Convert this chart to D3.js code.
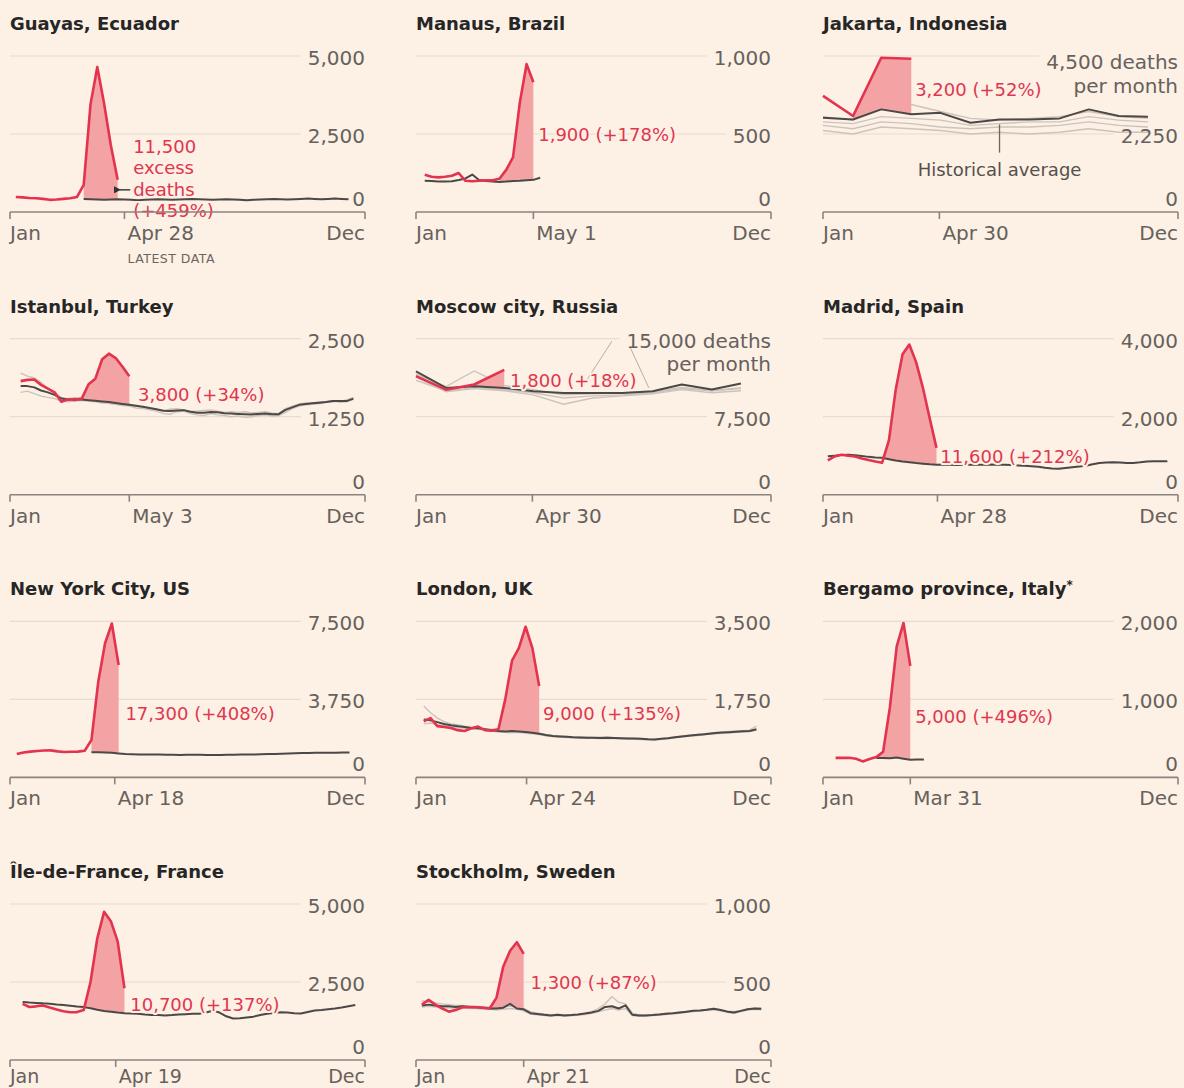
<!DOCTYPE html>
<html><head><meta charset="utf-8">
<script src="https://cdn.jsdelivr.net/npm/d3@7"></script>
<style>
html,body{margin:0;padding:0;background:#fdf0e4;}
svg{display:block;}
text{font-family:"DejaVu Sans",sans-serif;}
</style></head><body>
<svg id="chart" width="1184" height="1088"></svg>
<script>
// ---------------- DATA ----------------
// Weekly series: index i is the week starting at day (firstDay + 7*i) of 2020.
// Monthly series (Jakarta, Moscow): index i is month i (Jan..Dec).

const guayasRed = [480, 470, 450, 440, 420, 390, 400, 420, 440, 480, 870, 3450, 4645, 3480, 2130, 1030];
const guayasAvg = [null, null, null, null, null, null, null, null, null, null,
  420, 410, 400, 390, 400, 410, 400, 390, 380, 390, 400, 410, 400, 390, 400, 410, 420, 410, 400, 390,
  400, 410, 400, 390, 380, 390, 400, 410, 420, 410, 400, 410, 420, 430, 420, 410, 420, 430, 420, 410];

const manausRed = [239, 226, 222, 226, 232, 250, 200, 197, 200, 203, 203, 213, 270, 350, 700, 948, 832];
const manausAvg = [200, 198, 196, 195, 197, 205, 215, 240, 205, 198, 195, 193, 195, 198, 200, 203, 206, 220];

const jakartaRed = [3350, 2770, 4450, 4420];
const jakartaAvg = [2720, 2670, 2960, 2820, 2860, 2575, 2670, 2670, 2700, 2960, 2770, 2750];
const jakartaPast1 = [2750, 2650, 3450, 3100, 2900, 2700, 2650, 2700, 2750, 2900, 2750, 2700];
const jakartaPast2 = [2350, 2250, 2450, 2400, 2350, 2250, 2300, 2250, 2300, 2400, 2300, 2300];
const jakartaPast3 = [2500, 2400, 2600, 2550, 2450, 2400, 2450, 2450, 2500, 2600, 2500, 2450];
const jakartaPast4 = [2600, 2550, 2750, 2700, 2650, 2500, 2550, 2600, 2600, 2750, 2650, 2600];

const istanbulRed = [1820, 1840, 1847, 1760, 1700, 1640, 1490, 1530, 1520, 1540, 1770, 1860, 2170, 2260, 2190, 2050, 1900];
const istanbulAvg = [1740, 1740, 1720, 1670, 1640, 1600, 1540, 1520, 1530, 1525, 1515, 1505, 1495, 1485, 1470, 1455, 1440, 1425, 1410, 1390,
  1370, 1345, 1340, 1350, 1355, 1330, 1315, 1315, 1325, 1320, 1305, 1300, 1295, 1290, 1285, 1295, 1300, 1290, 1290, 1360,
  1400, 1440, 1455, 1465, 1475, 1485, 1500, 1500, 1500, 1540];
const istanbulPast1 = [1950, 1900, 1870, 1800, 1700, 1620, 1560, 1540, 1560, 1540, 1530, 1500, 1480, 1460, 1450, 1430, 1420, 1390, 1380, 1360,
  1340, 1300, 1290, 1330, 1340, 1300, 1280, 1270, 1300, 1280, 1270, 1250, 1260, 1240, 1250, 1270, 1280, 1260, 1270, 1320,
  1380, 1420, 1440, 1450, 1460, 1480, 1490, 1500, 1520, 1560];
const istanbulPast2 = [1640, 1660, 1620, 1580, 1560, 1540, 1500, 1490, 1500, 1510, 1500, 1490, 1470, 1470, 1450, 1440, 1430, 1420, 1400, 1380,
  1360, 1350, 1370, 1380, 1360, 1340, 1340, 1350, 1360, 1340, 1320, 1330, 1320, 1330, 1310, 1320, 1330, 1310, 1300, 1380,
  1420, 1450, 1470, 1470, 1490, 1490, 1510, 1480, 1490, 1530];

const moscowRed = [11400, 10100, 10600, 12000];
const moscowAvg = [11870, 10270, 10430, 10270, 9950, 9790, 9790, 9790, 9950, 10590, 10110, 10690];
const moscowPast1 = [11600, 10400, 11900, 10500, 10100, 9600, 9700, 9800, 9900, 10300, 10000, 10200];
const moscowPast2 = [11300, 9900, 10200, 10000, 9600, 8700, 9300, 9500, 9700, 10100, 9800, 10000];
const moscowPast3 = [11000, 10000, 10300, 10100, 9800, 9300, 9500, 9600, 9800, 10200, 10000, 10300];

const madridRed = [880, 980, 1025, 1000, 980, 930, 890, 850, 820, 1400, 2700, 3600, 3850, 3400, 2740, 1960, 1200];
const madridAvg = [985, 1000, 1015, 1025, 1010, 990, 970, 955, 945, 910, 875, 850, 830, 810, 795, 780, 770, 775, 770, 760,
  765, 770, 765, 770, 775, 770, 765, 760, 750, 740, 730, 715, 690, 670, 665, 685, 705, 720, 740, 780,
  810, 825, 830, 825, 815, 815, 830, 850, 855, 855, 860];

const nycRed = [1120, 1200, 1240, 1270, 1290, 1300, 1250, 1220, 1230, 1240, 1280, 1800, 4600, 6450, 7400, 5400];
const nycAvg = [null, null, null, null, null, null, null, null, null, null, null,
  1210, 1215, 1200, 1180, 1150, 1120, 1110, 1100, 1095, 1100, 1095, 1090, 1085, 1080, 1085, 1090, 1085, 1080, 1075, 1080,
  1085, 1090, 1095, 1100, 1105, 1110, 1120, 1130, 1140, 1150, 1160, 1170, 1175, 1180, 1185, 1190, 1190, 1195, 1200];

const londonRed = [1260, 1330, 1150, 1130, 1110, 1060, 1040, 1100, 1140, 1060, 1050, 1080, 1750, 2620, 2900, 3380, 2900, 2050];
const londonAvg = [1300, 1280, 1240, 1200, 1170, 1150, 1130, 1110, 1100, 1080, 1060, 1040, 1030, 1040, 1030, 1020, 1000, 980, 950, 930,
  920, 910, 900, 895, 890, 890, 885, 890, 885, 880, 875, 870, 865, 855, 850, 865, 880, 900, 920, 935,
  950, 965, 980, 995, 1005, 1015, 1025, 1035, 1040, 1080];
const londonPast1 = [1600, 1450, 1330, 1250, 1200, 1180, 1150, 1120, 1110, 1090, 1080, 1070, 1060, 1080, 1050, 1040, 1010, 990, 960, 940,
  930, 920, 910, 905, 900, 895, 900, 905, 890, 880, 880, 875, 870, 860, 850, 870, 890, 905, 930, 945,
  960, 975, 990, 1010, 1020, 1030, 1040, 1050, 1060, 1150];
const londonPast2 = [1200, 1220, 1180, 1160, 1130, 1110, 1100, 1090, 1080, 1060, 1040, 1020, 1010, 1000, 1010, 990, 980, 960, 930, 915,
  905, 895, 890, 880, 875, 880, 870, 875, 870, 865, 860, 855, 850, 845, 840, 855, 870, 890, 905, 920,
  935, 950, 965, 980, 990, 1000, 1010, 1020, 1030, 1060];

const bergamoRed = [250, 250, 252, 240, 205, 235, 260, 330, 900, 1680, 1980, 1430];
const bergamoAvg = [null, null, null, null, null, null, 250, 250, 245, 255, 240, 225, 230, 228];

const idfRed = [1800, 1700, 1720, 1750, 1680, 1620, 1560, 1530, 1535, 1600, 2500, 3900, 4750, 4450, 3800, 2300];
const idfAvg = [1860, 1840, 1830, 1815, 1805, 1780, 1760, 1740, 1715, 1695, 1660, 1610, 1570, 1550, 1520, 1500, 1490, 1480, 1460, 1445,
  1440, 1430, 1440, 1455, 1470, 1480, 1485, 1520, 1580, 1520, 1400, 1330, 1340, 1365, 1390, 1440, 1485, 1510, 1530, 1520,
  1500, 1490, 1540, 1585, 1600, 1625, 1650, 1680, 1720, 1760];

const stockholmRed = [355, 385, 355, 330, 310, 320, 338, 340, 338, 335, 330, 400, 600, 700, 755, 680];
const stockholmAvg = [350, 355, 350, 345, 345, 340, 345, 340, 338, 335, 330, 330, 335, 360, 330, 325, 300, 295, 290, 286,
  290, 286, 288, 292, 298, 305, 315, 340, 345, 330, 350, 290, 285, 286, 288, 292, 297, 300, 305, 310,
  315, 318, 322, 328, 320, 310, 305, 315, 325, 330, 328];
const stockholmPast1 = [380, 370, 365, 360, 355, 350, 350, 345, 345, 340, 340, 335, 340, 345, 340, 330, 310, 300, 295, 290,
  292, 290, 288, 292, 300, 310, 330, 360, 405, 370, 360, 300, 290, 288, 290, 295, 300, 302, 308, 312,
  318, 320, 325, 330, 322, 315, 310, 318, 328, 332, 330];
const stockholmPast2 = [340, 345, 340, 335, 335, 330, 335, 330, 330, 325, 325, 320, 325, 330, 325, 315, 295, 290, 285, 282,
  285, 282, 284, 288, 292, 300, 310, 320, 330, 320, 330, 285, 280, 282, 285, 288, 292, 296, 300, 305,
  310, 315, 318, 322, 315, 305, 300, 310, 320, 325, 322];

const titles = ["Guayas, Ecuador", "Manaus, Brazil", "Jakarta, Indonesia", "Istanbul, Turkey", "Moscow city, Russia",
  "Madrid, Spain", "New York City, US", "London, UK", "Bergamo province, Italy", "Île-de-France, France", "Stockholm, Sweden"];
const yMax = [5000, 1000, 4500, 2500, 15000, 4000, 7500, 3500, 2000, 5000, 1000];
const latestLabels = ["Apr 28", "May 1", "Apr 30", "May 3", "Apr 30", "Apr 28", "Apr 18", "Apr 24", "Mar 31", "Apr 19", "Apr 21"];
const latestDates = [[3, 28], [4, 1], [3, 30], [4, 3], [3, 30], [3, 28], [3, 18], [3, 24], [2, 31], [3, 19], [3, 21]];
const firstDays = [6, 9, null, 11, null, 5, 7, 8, 13, 13, 6];
const noteTexts = [["11,500", "excess", "deaths", "(+459%)"], ["1,900 (+178%)"], ["3,200 (+52%)"], ["3,800 (+34%)"],
  ["1,800 (+18%)"], ["11,600 (+212%)"], ["17,300 (+408%)"], ["9,000 (+135%)"], ["5,000 (+496%)"], ["10,700 (+137%)"], ["1,300 (+87%)"]];
// note anchor in data units: [day of year, deaths]
const noteAnchors = [[127, 2129], [126, 500], [95, 3542], [132, 1606], [97, 11075], [121, 984], [119, 3106], [131, 1449], [95, 785], [124, 1803], [118, 500]];

// ---------------- LAYOUT ----------------
const BG = "#fdf0e4";
const RED = "#e3334e", RED_TEXT = "#e0364f", FILL = "#f3a3a3";
const AVG = "#4b4846", PAST = "#cbc3bc", GRID = "#e8dbcf", AXIS = "#8a8480";
const TICK_TEXT = "#66615d", TITLE = "#262626";
const COLX = [10, 416, 823], PW = 355;
const ROWY = [212, 494.7, 777.4, 1060], PH = 156;

const panels = [
  {red: guayasRed, avg: guayasAvg, past: [], fillStart: 10},
  {red: manausRed, avg: manausAvg, past: [], fillStart: 11},
  {red: jakartaRed, avg: jakartaAvg, past: [jakartaPast1, jakartaPast2, jakartaPast3, jakartaPast4], fillStart: 1, monthly: true,
    topLabel: ["4,500 deaths", "per month"], topDy: 6},
  {red: istanbulRed, avg: istanbulAvg, past: [istanbulPast1, istanbulPast2], fillStart: 9},
  {red: moscowRed, avg: moscowAvg, past: [moscowPast1, moscowPast2, moscowPast3], fillStart: 2, monthly: true,
    topLabel: ["15,000 deaths", "per month"], topDy: 2},
  {red: madridRed, avg: madridAvg, past: [], fillStart: 8},
  {red: nycRed, avg: nycAvg, past: [], fillStart: 11},
  {red: londonRed, avg: londonAvg, past: [londonPast1, londonPast2], fillStart: 11},
  {red: bergamoRed, avg: bergamoAvg, past: [], fillStart: 6, star: true},
  {red: idfRed, avg: idfAvg, past: [], fillStart: 9},
  {red: stockholmRed, avg: stockholmAvg, past: [stockholmPast1, stockholmPast2], fillStart: 10}
].map((p, k) => Object.assign(p, {
  title: titles[k], max: yMax[k], ticks: [0, yMax[k] / 2, yMax[k]], latestLabel: latestLabels[k],
  latest: new Date(2020, latestDates[k][0], latestDates[k][1]), firstDay: firstDays[k],
  note: noteTexts[k], noteAt: noteAnchors[k], col: k % 3, row: Math.floor(k / 3)
}));

const svg = d3.select("#chart");
svg.append("rect").attr("width", 1184).attr("height", 1088).attr("fill", BG);
const fmt = d3.format(",");
const dayDate = d => new Date(2020, 0, 1 + d);

panels.forEach((p, k) => {
  const x0 = COLX[p.col], x1 = x0 + PW, y0 = ROWY[p.row];
  const x = d3.scaleTime().domain([new Date(2020, 0, 1), new Date(2021, 0, 1)]).range([x0, x1]);
  const y = d3.scaleLinear().domain([0, p.max]).range([y0, y0 - PH]);
  const at = p.monthly ? (i => new Date(2020, i, 1)) : (i => new Date(2020, 0, 1 + p.firstDay + 7 * i));
  const g = svg.append("g");
  const gGrid = g.append("g"), gData = g.append("g"), gText = g.append("g");

  // y ticks + gridlines
  p.ticks.forEach((v, j) => {
    if (v === 0) {
      gText.append("text").attr("x", x1).attr("y", y0 - 13).attr("text-anchor", "end")
        .attr("dominant-baseline", "central").attr("font-size", 20).attr("fill", TICK_TEXT).text("0");
      return;
    }
    const isTop = j === p.ticks.length - 1;
    const lines = (isTop && p.topLabel) ? p.topLabel : [fmt(v)];
    const dy = (isTop && p.topLabel) ? p.topDy : 2;
    let w = 0;
    lines.forEach((ln, li) => {
      const t = gText.append("text").attr("x", x1).attr("y", y(v) + dy + li * 23.5).attr("text-anchor", "end")
        .attr("dominant-baseline", "central").attr("font-size", 20).attr("fill", TICK_TEXT).text(ln);
      if (li === 0) w = t.node().getComputedTextLength();
    });
    gGrid.append("line").attr("x1", x0).attr("x2", x1 - w - 7).attr("y1", y(v)).attr("y2", y(v))
      .attr("stroke", GRID).attr("stroke-width", 1.2);
  });

  // past years
  const lineOf = arr => d3.line().defined((d, i) => arr[i] != null).x((d, i) => x(at(i))).y((d, i) => y(arr[i]))(arr);
  p.past.forEach(arr => {
    gData.append("path").attr("d", lineOf(arr)).attr("fill", "none").attr("stroke", PAST).attr("stroke-width", 1.4);
  });

  // excess fill
  const area = d3.area()
    .defined((d, i) => i >= p.fillStart && p.avg[i] != null)
    .x((d, i) => x(at(i)))
    .y0((d, i) => y(p.avg[i]))
    .y1((d, i) => y(Math.max(p.red[i], p.avg[i])));
  gData.append("path").datum(p.red).attr("d", area).attr("fill", FILL);

  // historical average
  gData.append("path").attr("d", lineOf(p.avg)).attr("fill", "none").attr("stroke", AVG)
    .attr("stroke-width", 2).attr("stroke-linejoin", "round");
  // 2020
  gData.append("path").attr("d", lineOf(p.red)).attr("fill", "none").attr("stroke", RED)
    .attr("stroke-width", 2.6).attr("stroke-linejoin", "round");

  // x axis
  g.append("line").attr("x1", x0).attr("x2", x1).attr("y1", y0).attr("y2", y0)
    .attr("stroke", AXIS).attr("stroke-width", 1.6);
  [x0, x(p.latest), x1].forEach(tx => {
    g.append("line").attr("x1", tx).attr("x2", tx).attr("y1", y0).attr("y2", y0 + 7)
      .attr("stroke", AXIS).attr("stroke-width", 1.6);
  });
  const lastRow = p.row === 3;
  const xl = (tx, anchor, s) => gText.append("text").attr("x", tx).attr("y", y0 + (lastRow ? 16 : 21)).attr("text-anchor", anchor)
    .attr("dominant-baseline", "central").attr("font-size", lastRow ? 19 : 20).attr("fill", TICK_TEXT).text(s);
  xl(x0, "start", "Jan");
  xl(x(p.latest) + 3, "start", p.latestLabel);
  xl(x1, "end", "Dec");
  if (k === 0) {
    gText.append("text").attr("x", x(p.latest) + 3).attr("y", y0 + 46).attr("dominant-baseline", "central")
      .attr("font-size", 12.5).attr("letter-spacing", 0.5).attr("fill", "#6b6560").text("LATEST DATA");
  }

  // title
  const tt = gText.append("text").attr("x", x0).attr("y", y0 - 182).attr("font-size", 18)
    .attr("font-weight", "bold").attr("fill", TITLE).text(p.title);
  if (p.star) tt.append("tspan").attr("font-size", 12).attr("dy", -6).text("*");

  // red annotation
  const nt = gText.append("text").attr("x", x(dayDate(p.noteAt[0]))).attr("y", y(p.noteAt[1]))
    .attr("dominant-baseline", "central").attr("font-size", 18).attr("fill", RED_TEXT)
    .attr("stroke", BG).attr("stroke-width", 4).attr("stroke-linejoin", "round").attr("paint-order", "stroke");
  p.note.forEach((ln, li) => {
    nt.append("tspan").attr("x", x(dayDate(p.noteAt[0]))).attr("dy", li === 0 ? 0 : 21.5).text(ln);
  });

  // panel-specific annotations
  if (k === 0) {
    const ay = y(710);
    svg.append("defs").append("marker").attr("id", "arr").attr("viewBox", "0 0 10 10").attr("refX", 2).attr("refY", 5)
      .attr("markerWidth", 5).attr("markerHeight", 5).attr("orient", "auto")
      .append("path").attr("d", "M10,0 L0,5 L10,10 z").attr("fill", "#333");
    gText.append("line").attr("x1", x(dayDate(124))).attr("x2", x(dayDate(113))).attr("y1", ay).attr("y2", ay)
      .attr("stroke", "#333").attr("stroke-width", 1.4).attr("marker-end", "url(#arr)");
  }
  if (k === 2) {
    const lx = x(dayDate(182));
    gText.append("line").attr("x1", lx).attr("x2", lx).attr("y1", y(2525)).attr("y2", y(1713))
      .attr("stroke", "#6b6560").attr("stroke-width", 1.3);
    gText.append("text").attr("x", lx).attr("y", y(1219)).attr("text-anchor", "middle").attr("dominant-baseline", "central")
      .attr("font-size", 18).attr("fill", "#55504c").text("Historical average");
  }
  if (k === 4) {
    [[[172, 10430], [202, 14760]], [[221, 14130], [240, 10280]]].forEach(seg => {
      gGrid.append("line").attr("x1", x(dayDate(seg[0][0]))).attr("y1", y(seg[0][1]))
        .attr("x2", x(dayDate(seg[1][0]))).attr("y2", y(seg[1][1]))
        .attr("stroke", "#b8afa8").attr("stroke-width", 1);
    });
  }
});
</script>
</body></html>
